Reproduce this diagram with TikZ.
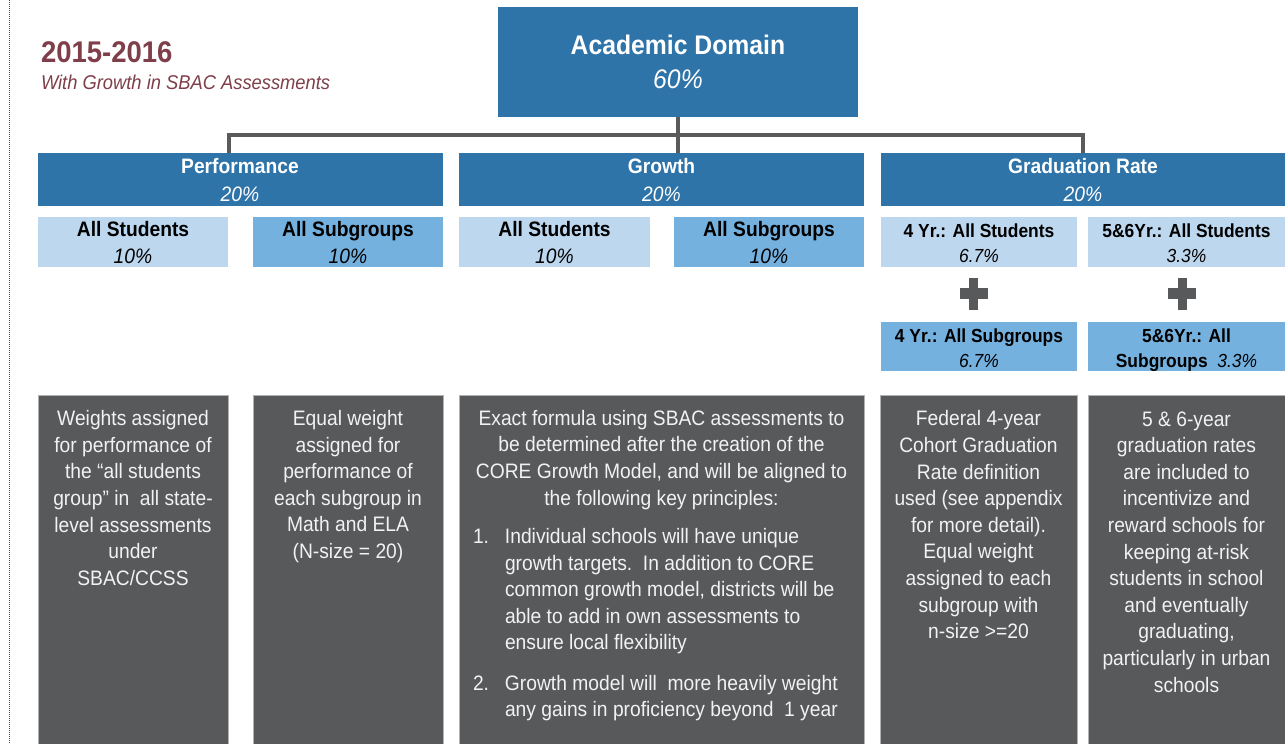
\documentclass[tikz,border=0pt]{standalone}
\usepackage{fontspec}
\setmainfont[FakeStretch=0.92]{Liberation Sans}
\definecolor{dblue}{HTML}{2E74A8}
\definecolor{lblue}{HTML}{BDD7EE}
\definecolor{mblue}{HTML}{75B1DE}
\definecolor{dgray}{HTML}{58595B}
\definecolor{connc}{HTML}{5A5A5A}
\definecolor{ttlc}{HTML}{7E3E4A}
\newcommand\ftitle{\fontsize{30}{36}\selectfont\bfseries}
\newcommand\fsubt{\fontsize{20}{24}\selectfont\itshape}
\newcommand\ftop{\fontsize{27}{32}\selectfont\bfseries}
\newcommand\ftopi{\fontsize{27}{32}\selectfont\itshape}
\newcommand\flvl{\fontsize{21}{25}\selectfont\bfseries}
\newcommand\flvli{\fontsize{21}{25}\selectfont\itshape}
\newcommand\fsml{\fontsize{19}{23}\selectfont\bfseries}
\newcommand\fsmli{\fontsize{19}{23}\selectfont\mdseries\itshape}
\newcommand\fbody{\fontsize{21}{26.7}\selectfont}
\begin{document}
\begin{tikzpicture}[x=1bp,y=-1bp,
  blk/.style={anchor=north west, inner sep=0pt, outer sep=0pt, draw=none},
  darkbox/.style={blk, fill=dgray, draw=gray!60, line width=0.8bp},
  lbl/.style={anchor=base, inner sep=0pt, outer sep=0pt},
  bodytxt/.style={anchor=base, inner sep=0pt, outer sep=0pt, align=center, font=\fbody, text=white!95!black},
  conn/.style={draw=connc, line width=4bp},
  plussign/.style={fill=dgray}]
\useasboundingbox (0,0) rectangle (1285,744);
\fill[white] (0,0) rectangle (1285,744);
% dotted left margin line
\draw[black!70, line width=0.8bp, dash pattern=on 1bp off 1bp] (9.5,0) -- (9.5,744);

% title
\node[lbl, anchor=base west, text=ttlc, font=\ftitle] (title) at (41,63) {2015-2016};
\node[lbl, anchor=base west, text=ttlc, font=\fsubt] (subtitle) at (41,90) {With Growth in SBAC Assessments};

% top box
\node[blk, fill=dblue, minimum width=360bp, minimum height=110bp] (top) at (498,7) {};
\node[lbl, text=white, font=\ftop] (topA) at (678,55) {Academic Domain};
\node[lbl, text=white, font=\ftopi] (topB) at (678,89) {60\%};

% level 2
\node[blk, fill=dblue, minimum width=405bp, minimum height=53bp] (perf) at (38,153) {};
\node[lbl, text=white, font=\flvl] (perfA) at (240,173) {Performance};
\node[lbl, text=white, font=\flvli] (perfB) at (240,201) {20\%};
\node[blk, fill=dblue, minimum width=405bp, minimum height=53bp] (grow) at (459,153) {};
\node[lbl, text=white, font=\flvl] (growA) at (661.5,173) {Growth};
\node[lbl, text=white, font=\flvli] (growB) at (661.5,201) {20\%};
\node[blk, fill=dblue, minimum width=404bp, minimum height=53bp] (grad) at (881,153) {};
\node[lbl, text=white, font=\flvl] (gradA) at (1083,173) {Graduation Rate};
\node[lbl, text=white, font=\flvli] (gradB) at (1083,201) {20\%};

% connectors
\coordinate (busL) at (229,135);
\coordinate (busR) at (1083,135);
\draw[conn] (top.south) -- (top.south |- busL);
\draw[conn, line join=miter] (busL |- perf.north) -- (busL) -- (busR) -- (busR |- grad.north);
\draw[conn] (top.south |- busL) -- (top.south |- grow.north);

% level 3
\node[blk, fill=lblue, minimum width=190bp, minimum height=50bp] (ps1) at (38,217) {};
\node[lbl, font=\flvl] (ps1A) at (133,236) {All Students};
\node[lbl, font=\flvli] (ps1B) at (133,263) {10\%};
\node[blk, fill=mblue, minimum width=190bp, minimum height=50bp] (ps2) at (253,217) {};
\node[lbl, font=\flvl] (ps2A) at (348,236) {All Subgroups};
\node[lbl, font=\flvli] (ps2B) at (348,263) {10\%};
\node[blk, fill=lblue, minimum width=191bp, minimum height=50bp] (gs1) at (459,217) {};
\node[lbl, font=\flvl] (gs1A) at (554.5,236) {All Students};
\node[lbl, font=\flvli] (gs1B) at (554.5,263) {10\%};
\node[blk, fill=mblue, minimum width=190bp, minimum height=50bp] (gs2) at (674,217) {};
\node[lbl, font=\flvl] (gs2A) at (769,236) {All Subgroups};
\node[lbl, font=\flvli] (gs2B) at (769,263) {10\%};

\node[blk, fill=lblue, minimum width=196bp, minimum height=50bp] (rs1) at (881,217) {};
\node[lbl, font=\fsml] (rs1A) at (979,237) {4 Yr.: All Students};
\node[lbl, font=\fsmli] (rs1B) at (979,262) {6.7\%};
\node[blk, fill=lblue, minimum width=197bp, minimum height=50bp] (rs2) at (1088,217) {};
\node[lbl, font=\fsml] (rs2A) at (1186.5,237) {5\&6Yr.: All Students};
\node[lbl, font=\fsmli] (rs2B) at (1186.5,262) {3.3\%};
\node[blk, fill=mblue, minimum width=196bp, minimum height=49bp] (rs3) at (881,322) {};
\node[lbl, font=\fsml] (rs3A) at (979,342) {4 Yr.: All Subgroups};
\node[lbl, font=\fsmli] (rs3B) at (979,367) {6.7\%};
\node[blk, fill=mblue, minimum width=197bp, minimum height=49bp] (rs4) at (1088,322) {};
\node[lbl, font=\fsml] (rs4A) at (1186.5,342) {5\&6Yr.: All};
\node[lbl, font=\fsml] (rs4B) at (1186.5,367) {Subgroups\ \ {\fsmli 3.3\%}};

% plus signs
\fill[plussign] (959.5,288) rectangle (987.5,299);
\fill[plussign] (969,278) rectangle (978,310);
\fill[plussign] (1168,288) rectangle (1196,299);
\fill[plussign] (1177.5,278) rectangle (1186.5,310);

% dark boxes
\node[darkbox, minimum width=190bp, minimum height=352bp] (d1) at (38,395) {};
\node[darkbox, minimum width=190bp, minimum height=352bp] (d2) at (253,395) {};
\node[darkbox, minimum width=405bp, minimum height=352bp] (d3) at (459,395) {};
\node[darkbox, minimum width=197bp, minimum height=352bp] (d4) at (880,395) {};
\node[darkbox, minimum width=197bp, minimum height=352bp] (d5) at (1088,395) {};

% (multi-line nodes: base anchor = baseline of last line)
\node[bodytxt] (t1) at (133,585.2) {Weights assigned\\for performance of\\the “all students\\group” in\ \ all state-\\level assessments\\under\\SBAC/CCSS};
\node[bodytxt] (t2) at (348,558.5) {Equal weight\\assigned for\\performance of\\each subgroup in\\Math and ELA\\(N-size = 20)};
\node[bodytxt] (t3) at (661.5,505.1) {Exact formula using SBAC assessments to\\be determined after the creation of the\\CORE Growth Model, and will be aligned to\\the following key principles:};
\node[bodytxt, anchor=base west, align=left] (t3a) at (473,649.8) {\makebox[32bp][l]{1.}Individual schools will have unique\\\hspace*{32bp}growth targets.\ \ In addition to CORE\\\hspace*{32bp}common growth model, districts will be\\\hspace*{32bp}able to add in own assessments to\\\hspace*{32bp}ensure local flexibility};
\node[bodytxt, anchor=base west, align=left] (t3b) at (473,716.7) {\makebox[32bp][l]{2.}Growth model will\ \ more heavily weight\\\hspace*{32bp}any gains in proficiency beyond\ \ 1 year};
\node[bodytxt] (t4) at (978.5,638.6) {Federal 4-year\\Cohort Graduation\\Rate definition\\used (see appendix\\for more detail).\\Equal weight\\assigned to each\\subgroup with\\n-size >=20};
\node[bodytxt] (t5) at (1186.5,692) {5 \& 6-year\\graduation rates\\are included to\\incentivize and\\reward schools for\\keeping at-risk\\students in school\\and eventually\\graduating,\\particularly in urban\\schools};
\end{tikzpicture}
\end{document}
